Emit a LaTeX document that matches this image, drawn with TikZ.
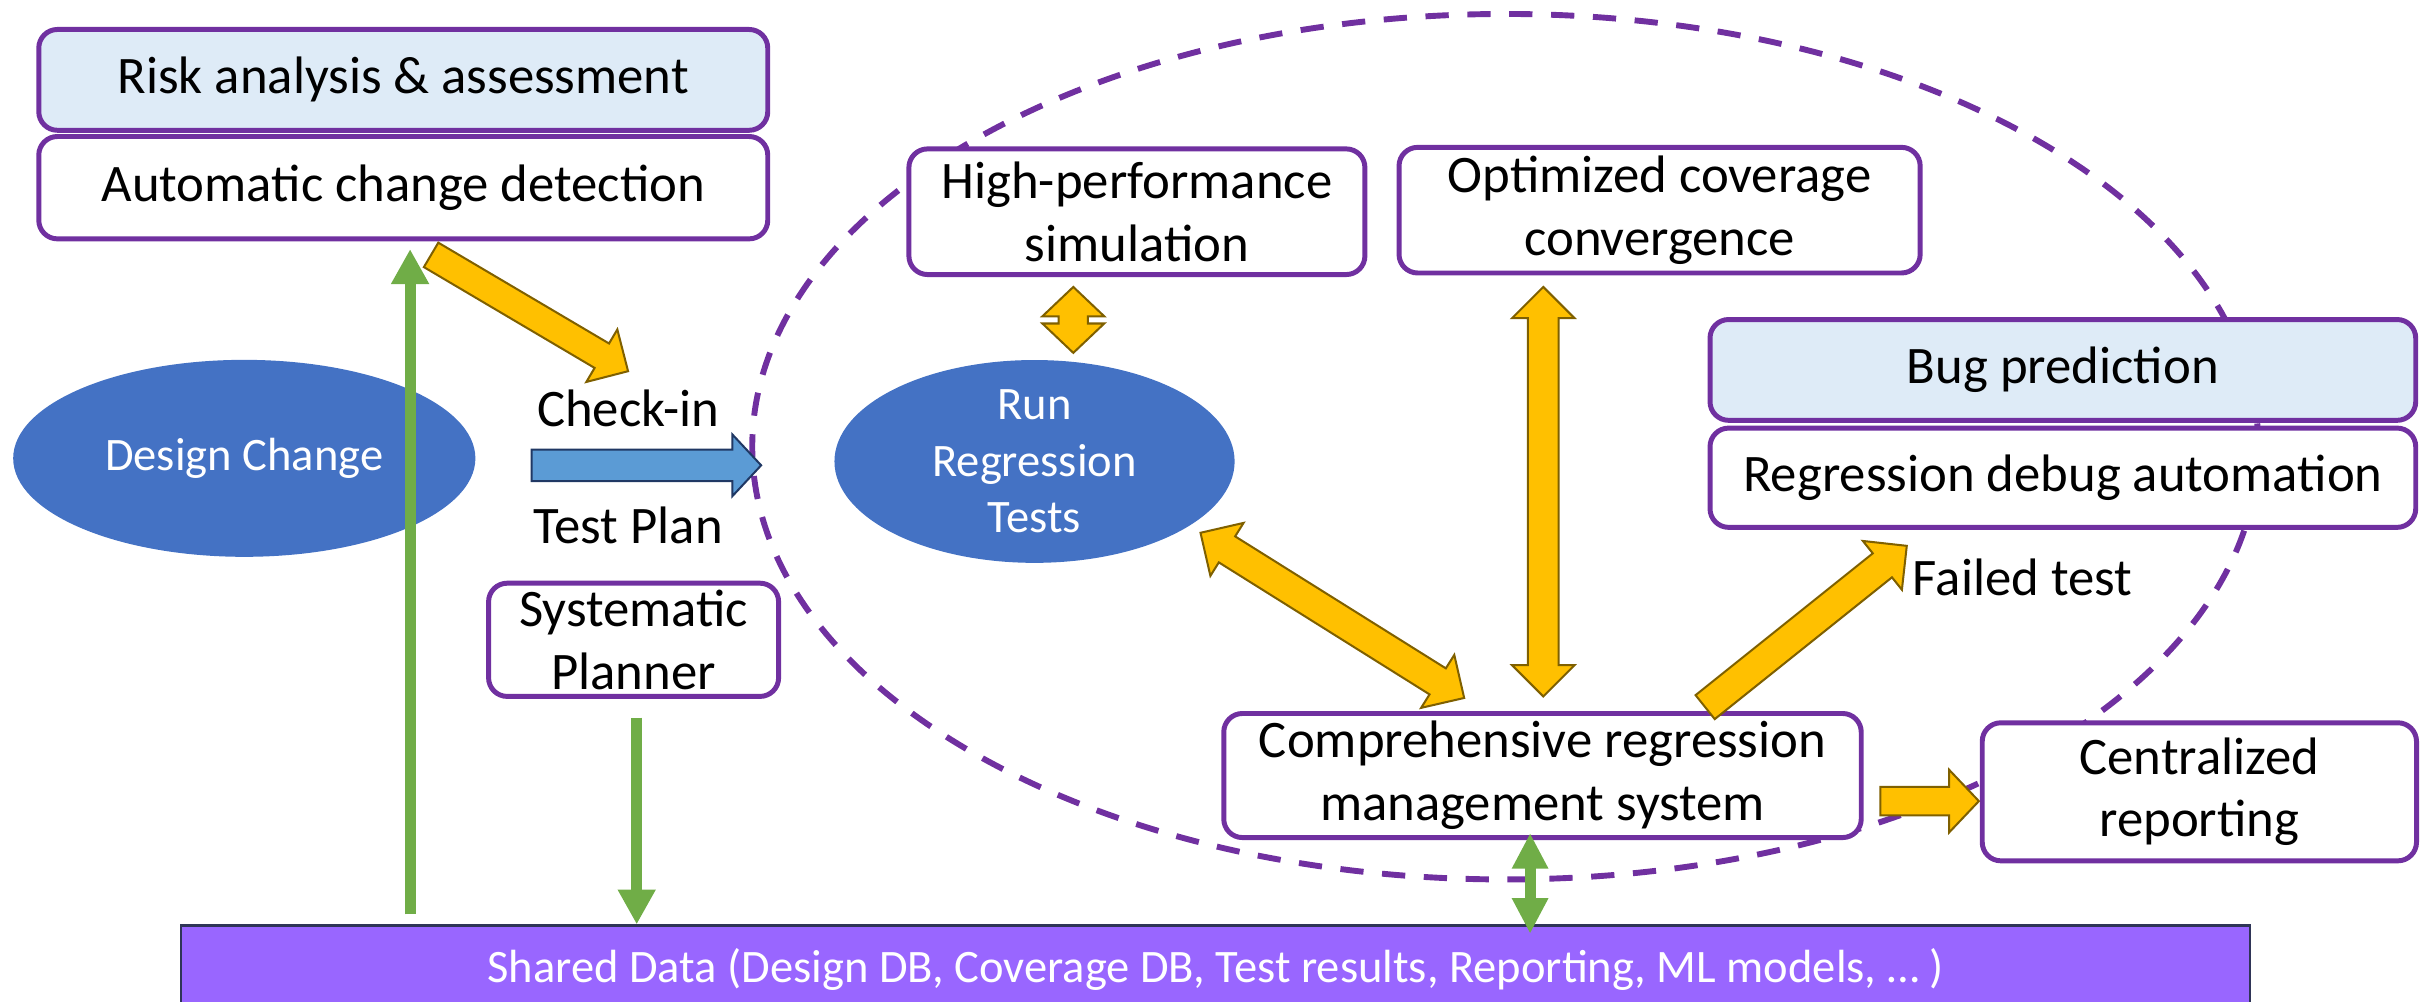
\documentclass[tikz,border=0pt]{standalone}
\usepackage{fontspec}
\setmainfont{Carlito}
\usetikzlibrary{shapes.geometric,shapes.arrows,arrows.meta,calc}

\definecolor{boxpurple}{HTML}{7030A0}
\definecolor{hintblue}{HTML}{DEEBF7}
\definecolor{blobblue}{HTML}{4472C4}
\definecolor{fatyellow}{HTML}{FFC000}
\definecolor{fatedge}{HTML}{7F6000}
\definecolor{inletblue}{HTML}{5B9BD5}
\definecolor{inletedge}{HTML}{203864}
\definecolor{dbviolet}{HTML}{9966FF}
\definecolor{dbedge}{HTML}{2F3557}
\definecolor{leafgreen}{HTML}{70AD47}

\tikzset{
  box/.style={draw=boxpurple, line width=3.2pt, rounded corners=12pt, fill=white,
    align=center, inner sep=0pt, font=\fontsize{34}{40.5}\selectfont},
  hint/.style={box, fill=hintblue},
  blob/.style={ellipse, fill=blobblue, inner sep=0pt, align=center, text=white,
    font=\fontsize{30}{36.5}\selectfont},
  note/.style={font=\fontsize{34}{40}\selectfont},
  fat/.style={single arrow, draw=fatedge, fill=fatyellow, line width=1.3pt,
    inner xsep=0pt, inner ysep=9.25pt, single arrow head extend=10.25pt, single arrow tip angle=90},
  fatboth/.style={double arrow, draw=fatedge, fill=fatyellow, line width=1.3pt,
    inner xsep=0pt, inner ysep=9.25pt, double arrow head extend=10.25pt, double arrow tip angle=90},
  inlet/.style={single arrow, draw=inletedge, fill=inletblue, line width=1.3pt,
    inner xsep=0pt, inner ysep=9.5pt, single arrow head extend=9.75pt, single arrow tip angle=94},
  feed/.style={draw=leafgreen, line width=7.2pt, -{Triangle[width=23pt,length=22.5pt]}},
  feedboth/.style={draw=leafgreen, line width=7.2pt,
    {Triangle[width=22pt,length=23pt]}-{Triangle[width=22pt,length=23pt]}}
}

\newcommand\fatlink[3]{%
  \path let \p1=($(#3)-(#2)$), \n1={veclen(\x1,\y1)}, \n2={atan2(\y1,\x1)} in
    node[#1, minimum height=\n1, rotate=\n2] at ($(#2)!.5!(#3)$) {};}

\begin{document}
\begin{tikzpicture}[x=1pt, y=-1pt]
  \useasboundingbox (0,0) rectangle (1568,646);

  \node[ellipse, draw=boxpurple, line width=3.8pt, dash pattern=on 15pt off 12pt,
    minimum width=971pt, minimum height=558pt] (regloop) at (970.5,288) {};

  \node[hint, minimum width=470pt, minimum height=65pt] (risk) at (260,51.5) {Risk analysis \& assessment};
  \node[box, minimum width=470pt, minimum height=66pt] (auto) at (260,121) {Automatic change detection};
  \node[blob, minimum width=298pt, minimum height=127pt] (design) at (157.5,295.5) {Design Change};
  \node[note] (checkin) at (405,263) {Check-in};
  \node[note] (testplan) at (405,339) {Test Plan};
  \node[box, minimum width=187pt, minimum height=73pt] (planner) at (408.5,412.5) {Systematic\\Planner};

  \node[box, minimum width=294pt, minimum height=81pt] (hps) at (733,136.5) {High-performance\\simulation};
  \node[box, minimum width=336pt, minimum height=81pt] (occ) at (1070,135.5) {Optimized coverage\\convergence};
  \node[blob, minimum width=258pt, minimum height=127pt] (run) at (667,297.5) {Run\\Regression\\Tests};

  \node[hint, minimum width=455pt, minimum height=65pt] (bug) at (1330,238.5) {Bug prediction};
  \node[box, minimum width=455pt, minimum height=64pt] (rdebug) at (1330,308) {Regression debug automation};
  \node[note] (failed) at (1304,372) {Failed test};

  \node[box, minimum width=411pt, minimum height=80pt] (crms) at (994.5,500) {Comprehensive regression\\management system};
  \node[box, minimum width=280pt, minimum height=89pt] (central) at (1418,510.5) {Centralized\\reporting};

  \node[draw=dbedge, fill=dbviolet, line width=1.5pt, minimum width=1334pt, minimum height=56pt,
    anchor=north west, text=white, font=\fontsize{30}{36}\selectfont] (shared) at (116,596)
    {Shared Data (Design DB, Coverage DB, Test results, Reporting, ML models, … )};

  \coordinate (chkA) at (274,162);
  \coordinate (chkB) at (401,237);
  \coordinate (inA) at (338,300);
  \coordinate (inB) at (486,300);
  \coordinate (simA) at (692,185);
  \coordinate (simB) at (692,227.5);
  \coordinate (covA) at (995,449);
  \coordinate (covB) at (995,185);
  \coordinate (runA) at (944,450);
  \coordinate (runB) at (774,343.5);
  \coordinate (failA) at (1095.5,459);
  \coordinate (failB) at (1225.5,355);
  \coordinate (repA) at (1208,516.5);
  \coordinate (repB) at (1271.5,516.5);

  \fatlink{fat, inner ysep=8.5pt, single arrow head extend=10.5pt}{chkA}{chkB}
  \fatlink{inlet}{inA}{inB}
  \fatlink{fatboth, inner ysep=8.8pt, double arrow head extend=10.5pt, double arrow tip angle=93}{simA}{simB}
  \fatlink{fatboth}{covA}{covB}
  \fatlink{fatboth}{runA}{runB}
  \fatlink{fat}{failA}{failB}
  \fatlink{fat, inner ysep=8.5pt, single arrow head extend=11pt, single arrow tip angle=93}{repA}{repB}

  \draw[feed, shorten <=6.5pt] ([xshift=4.4pt]shared.north -| auto.south) -- ([xshift=4.4pt,yshift=-5pt]auto.south);
  \draw[feed, shorten <=12pt] ([xshift=2pt]planner.south) -- ([xshift=2pt]planner.south |- shared.north);
  \draw[feedboth] ([xshift=-8pt,yshift=4.5pt]crms.south) -- ([xshift=-8pt,yshift=-6pt]crms.south |- shared.north);
\end{tikzpicture}
\end{document}
